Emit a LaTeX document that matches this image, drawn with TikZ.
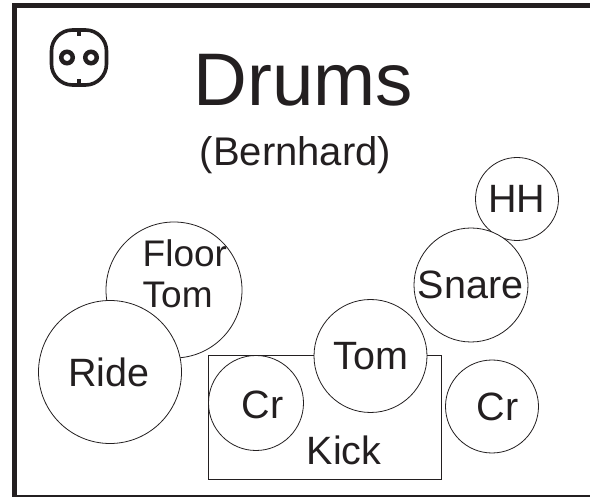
\documentclass[tikz,border=0pt]{standalone}
\usepackage{fontspec}
\setmainfont{Liberation Sans}
\definecolor{ink}{HTML}{231F20}
\tikzset{x=1pt,y=-1pt,
 frame/.style={draw=ink,line width=5pt},
 drum/.style={circle,draw=ink,line width=0.8pt,inner sep=0pt},
 lab/.style={text=ink,inner sep=0pt,anchor=base,font=\fontsize{39.5}{44}\selectfont},
 sock/.style={draw=ink,line width=3.6pt}}
\begin{document}
\begin{tikzpicture}
\useasboundingbox (0,0) rectangle (590,497);
\fill[white] (0,0) rectangle (590,497);
\begin{scope}
\clip (0,0) rectangle (590,497);
\draw[frame] (595,5.5) -- (14.5,5.5) -- (14.5,497.5) -- (595,497.5);
\end{scope}
\node[drum,minimum size=136pt] (floor) at (174,290) {};
\node[lab,anchor=base west,font=\fontsize{37}{41}\selectfont] (floorlab) at (142.5,267) {Floor};
\node[lab,anchor=base west,font=\fontsize{37}{41}\selectfont] (tomlab) at (142.5,308) {Tom};
\node[drum,minimum size=143pt,fill=white] (ride) at (110,372) {};
\node[lab] (ridelab) at (109,387) {Ride};
\node[draw=ink,line width=0.8pt,minimum width=233pt,minimum height=124pt,anchor=north west,inner sep=0pt] (kick) at (207.5,355.5) {};
\node[lab] (kicklab) at (344,465) {Kick};
\node[drum,minimum size=95pt] (cr1) at (256,403) {};
\node[lab] (cr1lab) at (262.5,419) {Cr};
\node[drum,minimum size=113pt,fill=white] (tom) at (370.5,356) {};
\node[lab] (tom2lab) at (371,370) {Tom};
\node[drum,minimum size=93pt] (cr2) at (492,406.5) {};
\node[lab] (cr2lab) at (497.5,421) {Cr};
\node[drum,minimum size=83pt] (hh) at (517,199) {};
\node[lab] (hhlab) at (517,213) {HH};
\node[drum,minimum size=114pt,fill=white] (snare) at (471,285) {};
\node[lab] (snarelab) at (470.5,299) {Snare};
\node[lab,font=\fontsize{74.5}{80}\selectfont] (title) at (303.5,106) {Drums};
\node[lab,font=\fontsize{40}{46}\selectfont] (sub) at (295.5,166) {(Bernhard)};
\node[sock,minimum size=55pt,rounded corners=21pt,inner sep=0pt] (socket) at (79,57.5) {};
\node[sock,circle,minimum size=11.5pt,inner sep=0pt,line width=4.5pt] (pin1) at (67,57.5) {};
\node[sock,circle,minimum size=11.5pt,inner sep=0pt,line width=4.5pt] (pin2) at (91,57.5) {};
\draw[sock] (socket.north) -- ++(0,8);
\draw[sock] (socket.south) -- ++(0,-8);
\end{tikzpicture}
\end{document}
